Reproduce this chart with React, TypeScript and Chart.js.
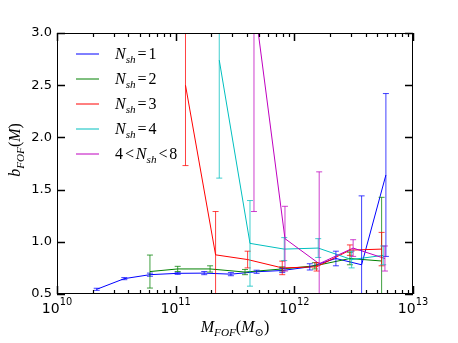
import { useEffect, useRef } from "react";
import { Chart, registerables } from "chart.js";

Chart.register(...registerables);

// ---- data ----
const n1Mass = [2.16e10, 3.69e10, 6.07e10, 1.04e11, 1.74e11, 2.92e11, 4.81e11, 7.91e11, 1.35e12, 2.24e12, 3.69e12, 5.91e12];
const n1Bias = [0.545, 0.647, 0.685, 0.698, 0.7, 0.69, 0.713, 0.725, 0.76, 0.84, 0.78, 1.64];
const n1Err = [0.01, 0.01, 0.015, 0.01, 0.015, 0.015, 0.015, 0.02, 0.03, 0.07, 0.66, 0.78];

const n2Mass = [6.07e10, 1.04e11, 1.95e11, 3.84e11, 7.91e11, 1.49e12, 2.94e12, 5.44e12];
const n2Bias = [0.715, 0.74, 0.74, 0.71, 0.74, 0.77, 0.84, 0.816];
const n2Err = [0.158, 0.025, 0.03, 0.025, 0.02, 0.03, 0.06, 0.61];

const n3Mass = [1.21e11, 2.17e11, 4.04e11, 7.91e11, 1.54e12, 2.94e12, 5.44e12];
const n3Bias = [2.5, 0.875, 0.83, 0.75, 0.76, 0.92, 0.93];
const n3Err = [0.77, 0.415, 0.08, 0.065, 0.04, 0.05, 0.16];

const n4Mass = [2.33e11, 4.23e11, 8.22e11, 1.59e12, 3.04e12, 5.61e12];
const n4Bias = [2.74, 0.985, 0.93, 0.94, 0.83, 0.87];
const n4Err = [1.13, 0.41, 0.11, 0.09, 0.08, 0.09];

const n5Mass = [4.57e11, 8.34e11, 1.62e12, 3.13e12, 5.8e12];
const n5Bias = [3.32, 1.03, 0.79, 0.94, 0.84];
const n5Err = [2.03, 0.31, 0.88, 0.08, 0.12];

const seriesLabels = ["N_{sh}=1", "N_{sh}=2", "N_{sh}=3", "N_{sh}=4", "4<N_{sh}<8"];
const seriesColors = ["#0000ff", "#008000", "#ff0000", "#00bfbf", "#bf00bf"];

const xTickValues = [1e10, 1e11, 1e12, 1e13];
const xTickLabels = ["10^{10}", "10^{11}", "10^{12}", "10^{13}"];
const yTickValues = [0.5, 1.0, 1.5, 2.0, 2.5, 3.0];
const xTitle = "M_{FOF}(M_{\u2299})";
const yTitle = "b_{FOF}(M)";

const allMass = [n1Mass, n2Mass, n3Mass, n4Mass, n5Mass];
const allBias = [n1Bias, n2Bias, n3Bias, n4Bias, n5Bias];
const allErr = [n1Err, n2Err, n3Err, n4Err, n5Err];

// ---- math-ish text helper ----
type Ch = { ch: string; lvl: number; it: boolean };
function parseMath(s: string, italicLetters: boolean): Ch[] {
  const out: Ch[] = [];
  let i = 0;
  while (i < s.length) {
    const c = s[i];
    if ((c === "_" || c === "^") && s[i + 1] === "{") {
      const end = s.indexOf("}", i);
      const lvl = c === "_" ? -1 : 1;
      for (const ch of s.slice(i + 2, end)) out.push({ ch, lvl, it: italicLetters && /[A-Za-z]/.test(ch) });
      i = end + 1;
    } else {
      out.push({ ch: c, lvl: 0, it: italicLetters && /[A-Za-z]/.test(c) });
      i++;
    }
  }
  return out;
}

function drawMath(
  ctx: CanvasRenderingContext2D,
  s: string,
  x: number,
  y: number,
  size: number,
  align: "left" | "center",
  family: string,
  italicLetters: boolean,
  supRaise = 0.42,
  subDrop = 0.22
) {
  const chars = parseMath(s, italicLetters);
  const items = chars.map((c) => {
    const sz = c.lvl === 0 ? size : size * 0.7;
    const font = `${c.it ? "italic " : ""}${sz}px ${family}`;
    ctx.font = font;
    const w = ctx.measureText(c.ch).width;
    const pad = (c.ch === "=" || c.ch === "<") && c.lvl === 0 ? size * 0.12 : 0;
    const dy = c.lvl === -1 ? size * subDrop : c.lvl === 1 ? -size * supRaise : 0;
    return { ...c, font, w, pad, dy };
  });
  const total = items.reduce((a, b) => a + b.w + 2 * b.pad, 0);
  let cx = align === "center" ? x - total / 2 : x;
  ctx.textAlign = "left";
  ctx.textBaseline = "alphabetic";
  for (const it of items) {
    ctx.font = it.font;
    cx += it.pad;
    ctx.fillText(it.ch, cx, y + it.dy);
    cx += it.w + it.pad;
  }
}

const SERIF = '"Liberation Serif", "DejaVu Serif", serif';
const SANS = '"DejaVu Sans", sans-serif';

const errorBarPlugin = {
  id: "errorBars",
  afterDatasetsDraw(chart: any) {
    const ctx: CanvasRenderingContext2D = chart.ctx;
    const xs = chart.scales.x;
    const ys = chart.scales.y;
    const a = chart.chartArea;
    ctx.save();
    ctx.beginPath();
    ctx.rect(a.left, a.top, a.right - a.left, a.bottom - a.top);
    ctx.clip();
    ctx.lineWidth = 1;
    for (let s = 0; s < allMass.length; s++) {
      ctx.strokeStyle = seriesColors[s];
      ctx.globalAlpha = 0.75;
      for (let i = 0; i < allMass[s].length; i++) {
        const px = xs.getPixelForValue(allMass[s][i]);
        const top = ys.getPixelForValue(allBias[s][i] + allErr[s][i]);
        const bot = ys.getPixelForValue(allBias[s][i] - allErr[s][i]);
        ctx.beginPath();
        ctx.moveTo(px, top);
        ctx.lineTo(px, bot);
        ctx.moveTo(px - 3, top);
        ctx.lineTo(px + 3, top);
        ctx.moveTo(px - 3, bot);
        ctx.lineTo(px + 3, bot);
        ctx.stroke();
      }
    }
    ctx.restore();
  },
};

const decorPlugin = {
  id: "decor",
  afterDraw(chart: any) {
    const ctx: CanvasRenderingContext2D = chart.ctx;
    const xs = chart.scales.x;
    const ys = chart.scales.y;
    const a = chart.chartArea;
    ctx.save();
    // frame
    ctx.strokeStyle = "#000";
    ctx.lineWidth = 1;
    ctx.strokeRect(Math.round(a.left) + 0.5, Math.round(a.top) + 0.5, Math.round(a.right - a.left) - 1, Math.round(a.bottom - a.top) - 1);
    // x ticks (log, major + minor) on bottom and top, inward
    for (let d = 10; d <= 13; d++) {
      for (let m = 1; m <= 9; m++) {
        const v = m * Math.pow(10, d);
        if (v > 1e13 * 1.0001) break;
        const px = Math.round(xs.getPixelForValue(v)) + 0.5;
        const major = m === 1;
        const len = major ? 8 : 4;
        ctx.lineWidth = major ? 1.5 : 1.2;
        ctx.beginPath();
        ctx.moveTo(px, a.bottom);
        ctx.lineTo(px, a.bottom - len);
        ctx.moveTo(px, a.top);
        ctx.lineTo(px, a.top + len);
        ctx.stroke();
      }
    }
    // y ticks left and right, inward
    ctx.lineWidth = 1.5;
    for (const v of yTickValues) {
      const py = Math.round(ys.getPixelForValue(v)) + 0.5;
      ctx.beginPath();
      ctx.moveTo(a.left, py);
      ctx.lineTo(a.left + 8, py);
      ctx.moveTo(a.right, py);
      ctx.lineTo(a.right - 8, py);
      ctx.stroke();
    }
    // x tick labels
    ctx.fillStyle = "#000";
    xTickValues.forEach((v, i) => {
      const px = xs.getPixelForValue(v);
      drawMath(ctx, xTickLabels[i], px, a.bottom + 19, 14, "center", SANS, false, 0.58);
    });
    // axis titles
    drawMath(ctx, xTitle, (a.left + a.right) / 2, a.bottom + 38, 16, "center", SERIF, true);
    ctx.save();
    ctx.translate(20, 150);
    ctx.rotate(-Math.PI / 2);
    drawMath(ctx, yTitle, 0, 0, 16, "center", SERIF, true);
    ctx.restore();
    // legend
    seriesLabels.forEach((lab, i) => {
      const yy = a.top + 21 + i * 25;
      ctx.strokeStyle = seriesColors[i];
      ctx.lineWidth = 1;
      ctx.beginPath();
      ctx.moveTo(a.left + 19, yy);
      ctx.lineTo(a.left + 42, yy);
      ctx.stroke();
      ctx.fillStyle = "#000";
      drawMath(ctx, lab, a.left + 58, yy + 5, 16, "left", SERIF, true);
    });
    ctx.restore();
  },
};

export default function App() {
  const ref = useRef<HTMLCanvasElement | null>(null);
  useEffect(() => {
    document.body.style.margin = "0";
    if (!ref.current) return;
    const datasets = allMass.map((mass, s) => ({
      label: seriesLabels[s],
      data: mass.map((m, i) => ({ x: m, y: allBias[s][i] })),
      borderColor: seriesColors[s],
      backgroundColor: seriesColors[s],
      borderWidth: 1,
      pointRadius: 0,
      tension: 0,
      fill: false,
      order: 5 - s,
    }));
    const chart = new Chart(ref.current, {
      type: "line",
      data: { datasets },
      options: {
        animation: false,
        responsive: false,
        devicePixelRatio: 1,
        layout: { padding: { left: 0, right: 45, top: 33, bottom: 0 } },
        plugins: { legend: { display: false }, tooltip: { enabled: false } },
        scales: {
          x: {
            type: "logarithmic",
            min: 1e10,
            max: 1e13,
            grid: { display: false, drawTicks: false },
            border: { display: false },
            ticks: { display: false },
            afterFit: (sc: any) => {
              sc.height = 49;
            },
          },
          y: {
            type: "linear",
            min: 0.5,
            max: 3.0,
            grid: { display: false, drawTicks: false },
            border: { display: false },
            ticks: {
              stepSize: 0.5,
              padding: 5,
              color: "#000",
              font: { family: SANS, size: 13 },
              callback: (v: any) => Number(v).toFixed(1),
            },
            afterFit: (sc: any) => {
              sc.width = 57;
            },
          },
        },
      } as any,
      plugins: [errorBarPlugin, decorPlugin],
    });
    return () => chart.destroy();
  }, []);
  return (
    <div style={{ width: 458, height: 343, background: "#fff" }}>
      <canvas ref={ref} width={458} height={343} style={{ display: "block" }} />
    </div>
  );
}
